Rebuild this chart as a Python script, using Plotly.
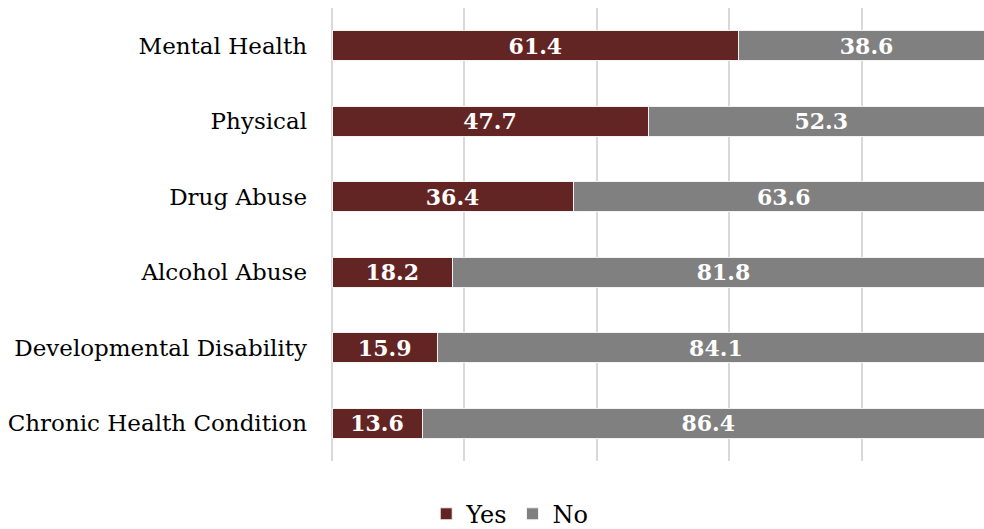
import plotly.graph_objects as go

# Share of respondents reporting each condition (percent), listed top to bottom
categories = [
    "Mental Health",
    "Physical",
    "Drug Abuse",
    "Alcohol Abuse",
    "Developmental Disability",
    "Chronic Health Condition",
]
yes_values = [61.4, 47.7, 36.4, 18.2, 15.9, 13.6]
no_values = [38.6, 52.3, 63.6, 81.8, 84.1, 86.4]

YES_COLOR = "#632523"
NO_COLOR = "#808080"
SERIF = "DejaVu Serif"

fig = go.Figure()
for name, vals, color in [("Yes", yes_values, YES_COLOR), ("No", no_values, NO_COLOR)]:
    fig.add_trace(go.Bar(
        name=name,
        y=categories,
        x=vals,
        orientation="h",
        marker=dict(color=color, line=dict(color="#f2f2f2", width=1)),
        texttemplate="%{x:.1f}",
        textposition="inside",
        insidetextanchor="middle",
        textangle=0,
        constraintext="none",
        textfont=dict(family=SERIF, size=22, color="white", weight="bold"),
    ))

fig.update_layout(
    width=984,
    height=529,
    barmode="stack",
    bargap=0.6,
    plot_bgcolor="white",
    paper_bgcolor="white",
    margin=dict(l=332, r=0, t=8, b=68),
    font=dict(family=SERIF, color="#000000"),
    legend=dict(
        orientation="h",
        xref="container", x=0.518, xanchor="center",
        yref="container", y=0.028, yanchor="middle",
        font=dict(family=SERIF, size=24, color="#000000"),
        itemwidth=30,
        traceorder="normal",
    ),
    showlegend=True,
)
fig.update_xaxes(
    range=[0, 98.42],
    dtick=20,
    tick0=0,
    showticklabels=False,
    showgrid=True,
    gridcolor="#d9d9d9",
    gridwidth=2,
    zeroline=True,
    zerolinecolor="#d9d9d9",
    zerolinewidth=2,
    fixedrange=True,
)
fig.update_yaxes(
    autorange="reversed",
    tickfont=dict(family=SERIF, size=23, color="#000000"),
    ticklabelstandoff=24,
    showgrid=False,
    ticks="",
)

fig.write_html("out.html")
